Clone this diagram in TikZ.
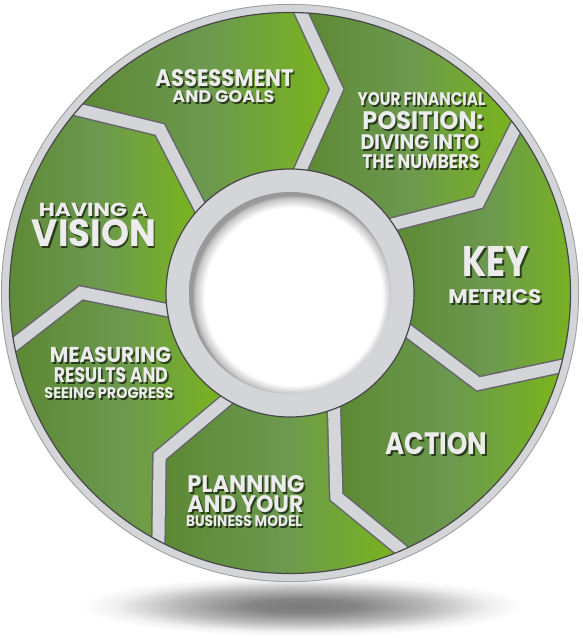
\documentclass[tikz,border=0pt]{standalone}
\usepackage{fontspec}
\newfontfamily\pop{Poppins}
\usetikzlibrary{calc}
\definecolor{gdark}{RGB}{92,136,50}
\definecolor{gmid}{RGB}{108,152,80}
\definecolor{glight}{RGB}{122,182,26}
\definecolor{band}{RGB}{212,213,216}
\definecolor{bandedge}{RGB}{100,102,105}
\definecolor{txt}{RGB}{236,236,236}
\pgfdeclareradialshading{floorshadow}{\pgfpoint{0bp}{0bp}}{color(0bp)=(black!52); color(6bp)=(black!48); color(14bp)=(black!28); color(21bp)=(black!6); color(25bp)=(white); color(50bp)=(white)}
\pgfdeclareradialshading{holeshade}{\pgfpoint{1.5bp}{-1.5bp}}{color(0bp)=(white); color(22bp)=(white); color(24.2bp)=(black!22); color(25bp)=(black!40); color(50bp)=(black!40)}
\tikzset{
  tsh/.style={inner sep=0pt, anchor=base, text=black, opacity=0.6},
  ttx/.style={inner sep=0pt, anchor=base, text=txt},
  segfill/.style={left color=gdark, right color=glight, middle color=gmid},
  bandout/.style={draw=bandedge, line width=15pt, line join=miter},
  bandin/.style={draw=band, line width=12pt, line join=miter}
}
\newcommand\tline[6]{%
  \node[tsh] (#1s) at ({#2+1.6},{638-#3-1.6}) {\resizebox{#4pt}{#5pt}{\pop\bfseries #6}};
  \node[ttx] (#1) at (#2,{638-#3}) {\resizebox{#4pt}{#5pt}{\pop\bfseries #6}};}
\begin{document}
\begin{tikzpicture}[x=1pt,y=1pt]
\useasboundingbox (0,0) rectangle (583,638);
\fill[white] (0,0) rectangle (583,638);
\coordinate (C) at (290,345);
% floor shadow
\shade[shading=floorshadow] (303,32) ellipse [x radius=222, y radius=30];
% base disk
\fill[band] (C) circle[radius=289];
% coordinates of the chevron boundaries
\foreach \k in {0,...,7}{
  \pgfmathsetmacro\t{77.1-51.4286*\k}
  \pgfmathsetmacro\to{\t+11}
  \pgfmathsetmacro\ti{\t+9}
  \coordinate (T\k) at ($(C)+(\t:209)$);
  \coordinate (O\k) at ($(C)+(\to:284)$);
  \coordinate (I\k) at ($(C)+(\ti:118)$);
}
% green segments
\foreach \k in {0,...,6}{
  \pgfmathsetmacro\a{77.1-51.4286*\k}
  \pgfmathsetmacro\ao{\a+11}
  \pgfmathsetmacro\ai{\a+9}
  \pgfmathsetmacro\bo{\a-51.4286+11}
  \pgfmathsetmacro\bi{\a-51.4286+9}
  \pgfmathtruncatemacro\kk{\k+1}
  \shade[segfill] (O\k) arc[start angle=\ao, end angle=\bo, radius=284] -- (T\kk) -- (I\kk)
     arc[start angle=\bi, end angle=\ai, radius=118] -- (T\k) -- cycle;
}
% gray bands between the segments
\foreach \k in {0,...,6}{
  \path[bandout] (O\k) -- (T\k) -- (I\k);
}
\foreach \k in {0,...,6}{
  \path[bandin] (O\k) -- (T\k) -- (I\k);
}
% outer ring
\fill[band, even odd rule] (C) circle[radius=289] (C) circle[radius=280.5];
\draw[black!38, line width=0.8pt] (C) circle[radius=288.6];
\draw[black!72, line width=1.2pt] (C) circle[radius=280.5];
% inner ring and hole
\fill[band] (C) circle[radius=124];
\draw[black!72, line width=1.2pt] (C) circle[radius=124];
\shade[shading=holeshade] (C) circle[radius=101];
% texts
\tline{as1}{224.5}{86.5}{138}{17}{ASSESSMENT}
\tline{as2}{223.5}{103}{102}{12}{AND GOALS}
\tline{fi1}{421.5}{106}{128}{13}{YOUR FINANCIAL}
\tline{fi2}{423}{130}{121}{18}{POSITION:}
\tline{fi3}{420}{150}{119}{15}{DIVING INTO}
\tline{fi4}{421}{169}{117}{14}{THE NUMBERS}
\tline{km1}{496}{277}{67}{30}{KEY}
\tline{km2}{495}{304}{93}{14}{METRICS}
\tline{ac1}{436.5}{455}{102}{22}{ACTION}
\tline{pl1}{246}{493}{117}{17}{PLANNING}
\tline{pl2}{245.5}{513}{116}{17}{AND YOUR}
\tline{pl3}{244}{527}{116}{11}{BUSINESS MODEL}
\tline{me1}{110.5}{363}{121}{15.4}{MEASURING}
\tline{me2}{111}{383}{114}{15}{RESULTS AND}
\tline{me3}{109}{399}{129}{11}{SEEING PROGRESS}
\tline{vi1}{93.3}{217}{109}{13.4}{HAVING A}
\tline{vi2}{94}{247}{124}{27}{VISION}
\end{tikzpicture}
\end{document}
